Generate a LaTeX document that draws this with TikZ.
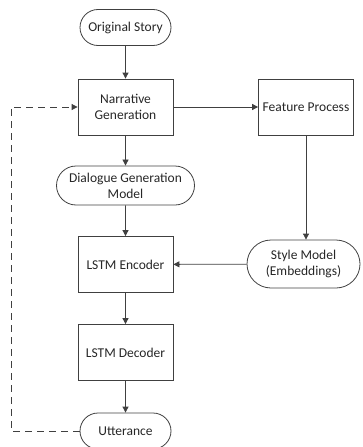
\documentclass[tikz,border=0pt]{standalone}
\usepackage{fontspec}
\setmainfont{Carlito}
\usetikzlibrary{positioning, arrows.meta, shapes.misc}

\begin{document}
\begin{tikzpicture}[x=1pt, y=-1pt]
		\tikzset{
			>={Triangle[length=6pt, width=6pt]},
			every node/.style={font=\fontsize{13.5}{16}\selectfont, text=black!85},
			box/.style={draw=black!75, line width=0.8pt, align=center, minimum height=56pt, minimum width=95pt, inner sep=2pt},
			term/.style={draw=black!75, line width=0.8pt, rounded rectangle, align=center, minimum height=36pt, minimum width=95pt, inner sep=2pt},
			link/.style={draw=black!75, line width=0.8pt}
		}
		\useasboundingbox (0,0) rectangle (363,447);
		
		% Main column
		\node[term] (story) at (125.5,27.5) {Original Story};
		\node[box] (narrative) at (125.5,107) {Narrative\\Generation};
		\node[term, minimum width=142pt, minimum height=39pt] (dialogue) at (125.5,185.5) {Dialogue Generation\\Model};
		\node[box] (encoder) at (125.5,264.5) {LSTM Encoder};
		\node[box] (decoder) at (125.5,352.5) {LSTM Decoder};
		\node[term] (utterance) at (125.5,431) {Utterance};
		
		% Style branch
		\node[box] (feature) at (306,107) {Feature Process};
		\node[term, minimum width=117pt, minimum height=48pt] (style) at (303.5,264) {Style Model\\(Embeddings)};
		
		% Loop back
		\coordinate (corner1) at (11,431);
		\coordinate (corner2) at (11,107);
		
		% Draw arrows between nodes
		\draw[link, ->] (story) -- (narrative);
		\draw[link, ->] (narrative) -- (dialogue);
		\draw[link, ->] (dialogue) -- (encoder);
		\draw[link, ->] (encoder) -- (decoder);
		\draw[link, ->] (decoder) -- (utterance);
		
		\draw[link, ->] (narrative) -- (feature);
		\draw[link, ->] (feature.south) -- (feature.south |- style.north);
		\draw[link, ->] (style) -- (encoder);
		
		\draw[link, ->, dash pattern=on 7pt off 5pt] (utterance.west) -- (corner1) -- (corner2) -- (narrative.west);
		
	\end{tikzpicture}
\end{document}
